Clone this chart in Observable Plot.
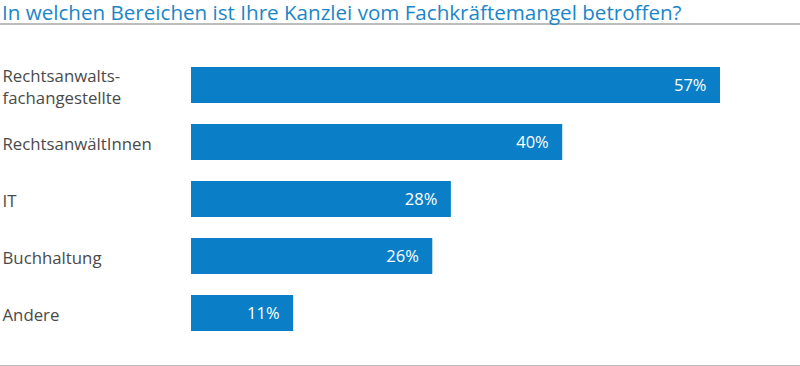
<!DOCTYPE html>
<html>
<head>
<meta charset="utf-8">
<script src="https://cdn.jsdelivr.net/npm/d3@7"></script>
<script src="https://cdn.jsdelivr.net/npm/@observablehq/plot@0.6"></script>
<style>
  html, body { margin: 0; padding: 0; background: #fff; }
  #wrap { width: 800px; font-family: "Open Sans", sans-serif; }
  #title { margin: 0; padding: 1px 0 0 2px; line-height: 22px; font-size: 20.6px; font-weight: normal; color: #1a86c8; border-bottom: 2px solid #bdbdbd; white-space: nowrap; }
  #chart { border-bottom: 1px solid #bdbdbd; height: 340px; }
  #chart svg { display: block; }
</style>
</head>
<body>
<div id="wrap">
  <div id="title">In welchen Bereichen ist Ihre Kanzlei vom Fachkräftemangel betroffen?</div>
  <div id="chart"></div>
</div>
<script>
const categories = ["Rechtsanwalts-\nfachangestellte", "RechtsanwältInnen", "IT", "Buchhaltung", "Andere"];
const values = [57, 40, 28, 26, 11];
const valueLabels = ["57%", "40%", "28%", "26%", "11%"];

const data = categories.map((c, i) => ({ category: c, value: values[i], label: valueLabels[i] }));

const chart = Plot.plot({
  width: 800,
  height: 340,
  marginLeft: 191,
  marginRight: 80,
  marginTop: 19,
  marginBottom: 11,
  style: { fontFamily: "'Open Sans', sans-serif", background: "#fff" },
  x: { domain: [0, 57], axis: null },
  y: { domain: categories, padding: 0.36, axis: null },
  marks: [
    Plot.barX(data, { x: "value", y: "category", fill: "#0a7fc7" }),
    Plot.text(data, { x: "value", y: "category", text: "label", textAnchor: "end", dx: -14, fill: "#fff", fontSize: 16.5 }),
    Plot.text(data, { y: "category", text: "category", frameAnchor: "left", textAnchor: "start", dx: -189, fill: "#4a4a4a", fontSize: 16.8, lineHeight: 1.31 })
  ]
});
document.getElementById("chart").appendChild(chart);
</script>
</body>
</html>
